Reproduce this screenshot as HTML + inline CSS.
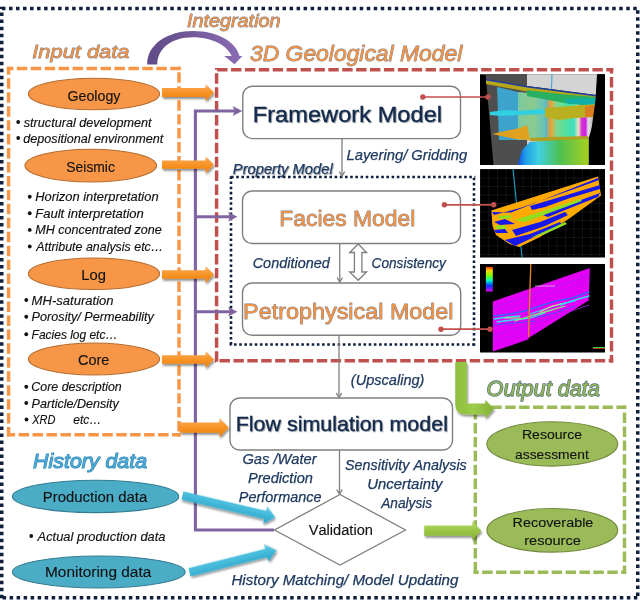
<!DOCTYPE html>
<html><head><meta charset="utf-8"><style>
html,body{margin:0;padding:0;background:#fff;}
svg{display:block;font-family:"Liberation Sans", sans-serif;font-kerning:none;will-change:transform;}
</style></head><body>
<svg width="640" height="600" viewBox="0 0 640 600">
<rect width="640" height="600" fill="#fff"/>
<defs>
<linearGradient id="og" x1="0" y1="0" x2="0" y2="1">
 <stop offset="0" stop-color="#fcc27a"/><stop offset="0.25" stop-color="#f9a040"/><stop offset="0.6" stop-color="#f7901f"/><stop offset="1" stop-color="#e47b17"/>
</linearGradient>
<linearGradient id="gg" x1="0" y1="0" x2="0" y2="1">
 <stop offset="0" stop-color="#c4e07f"/><stop offset="0.3" stop-color="#a6cf4e"/><stop offset="1" stop-color="#82ae33"/>
</linearGradient>
<linearGradient id="ggv" x1="0" y1="0" x2="1" y2="0">
 <stop offset="0" stop-color="#8fbf3f"/><stop offset="0.5" stop-color="#9ccb4a"/><stop offset="1" stop-color="#84b035"/>
</linearGradient>
<linearGradient id="bg" x1="0" y1="0" x2="0" y2="1">
 <stop offset="0" stop-color="#7fd3ea"/><stop offset="0.3" stop-color="#4ec0df"/><stop offset="1" stop-color="#2aa3c6"/>
</linearGradient>
<linearGradient id="pg" x1="0" y1="0" x2="1" y2="0">
 <stop offset="0" stop-color="#5f4a86"/><stop offset="1" stop-color="#8a6cb3"/>
</linearGradient>
<linearGradient id="leg" x1="0" y1="0" x2="0" y2="1">
 <stop offset="0" stop-color="#ff4000"/><stop offset="0.15" stop-color="#ffd000"/><stop offset="0.35" stop-color="#80ff00"/><stop offset="0.55" stop-color="#00ffc0"/><stop offset="0.75" stop-color="#0040ff"/><stop offset="1" stop-color="#e000ff"/>
</linearGradient>
<filter id="sh" x="-10%" y="-30%" width="130%" height="180%"><feGaussianBlur in="SourceAlpha" stdDeviation="1"/><feOffset dx="0.8" dy="1.5"/><feComponentTransfer><feFuncA type="linear" slope="0.45"/></feComponentTransfer><feMerge><feMergeNode/><feMergeNode in="SourceGraphic"/></feMerge></filter>
<filter id="tsh" x="-5%" y="-20%" width="110%" height="150%"><feGaussianBlur in="SourceAlpha" stdDeviation="0.7"/><feOffset dx="0.7" dy="1"/><feComponentTransfer><feFuncA type="linear" slope="0.3"/></feComponentTransfer><feMerge><feMergeNode/><feMergeNode in="SourceGraphic"/></feMerge></filter>
</defs>
<line x1="0.00" y1="8.50" x2="639.50" y2="8.50" stroke="#0f1f3d" stroke-width="3.5" stroke-dasharray="3.507 3.507" stroke-dashoffset="5.030"/>
<line x1="0.00" y1="597.75" x2="639.50" y2="597.75" stroke="#0f1f3d" stroke-width="3.5" stroke-dasharray="3.507 3.507" stroke-dashoffset="4.430"/>
<line x1="1.75" y1="6.75" x2="1.75" y2="599.50" stroke="#0f1f3d" stroke-width="3.5" stroke-dasharray="3.507 3.507" stroke-dashoffset="1.165"/>
<line x1="637.75" y1="6.75" x2="637.75" y2="599.50" stroke="#0f1f3d" stroke-width="3.5" stroke-dasharray="3.507 3.507" stroke-dashoffset="3.465"/>
<line x1="6.88" y1="68.50" x2="180.72" y2="68.50" stroke="#F79646" stroke-width="3.45" stroke-dasharray="10.462 3.488" stroke-dashoffset="4.025"/>
<line x1="6.88" y1="434.80" x2="180.72" y2="434.80" stroke="#F79646" stroke-width="3.45" stroke-dasharray="10.462 3.488" stroke-dashoffset="2.225"/>
<line x1="8.60" y1="66.78" x2="8.60" y2="436.53" stroke="#F79646" stroke-width="3.45" stroke-dasharray="10.462 3.488" stroke-dashoffset="2.425"/>
<line x1="179.00" y1="66.78" x2="179.00" y2="436.53" stroke="#F79646" stroke-width="3.45" stroke-dasharray="10.462 3.488" stroke-dashoffset="8.425"/>
<line x1="214.88" y1="69.80" x2="613.23" y2="69.80" stroke="#C0504D" stroke-width="3.45" stroke-dasharray="10.425 3.475" stroke-dashoffset="11.675"/>
<line x1="214.88" y1="360.80" x2="613.23" y2="360.80" stroke="#C0504D" stroke-width="3.45" stroke-dasharray="10.425 3.475" stroke-dashoffset="9.275"/>
<line x1="216.60" y1="68.08" x2="216.60" y2="362.53" stroke="#C0504D" stroke-width="3.45" stroke-dasharray="10.425 3.475" stroke-dashoffset="8.675"/>
<line x1="611.50" y1="68.08" x2="611.50" y2="362.53" stroke="#C0504D" stroke-width="3.45" stroke-dasharray="10.425 3.475" stroke-dashoffset="4.975"/>
<line x1="229.71" y1="177.00" x2="475.30" y2="177.00" stroke="#0f1f3d" stroke-width="2.59" stroke-dasharray="2.590 2.590" stroke-dashoffset="3.865"/>
<line x1="229.71" y1="344.50" x2="475.30" y2="344.50" stroke="#0f1f3d" stroke-width="2.59" stroke-dasharray="2.590 2.590" stroke-dashoffset="0.885"/>
<line x1="231.00" y1="175.71" x2="231.00" y2="345.80" stroke="#0f1f3d" stroke-width="2.59" stroke-dasharray="2.590 2.590" stroke-dashoffset="4.565"/>
<line x1="474.00" y1="175.71" x2="474.00" y2="345.80" stroke="#0f1f3d" stroke-width="2.59" stroke-dasharray="2.590 2.590" stroke-dashoffset="3.265"/>
<line x1="473.57" y1="407.20" x2="626.23" y2="407.20" stroke="#9BBB59" stroke-width="3.45" stroke-dasharray="10.425 3.475" stroke-dashoffset="10.075"/>
<line x1="473.57" y1="572.20" x2="626.23" y2="572.20" stroke="#9BBB59" stroke-width="3.45" stroke-dasharray="10.425 3.475" stroke-dashoffset="5.275"/>
<line x1="475.30" y1="405.47" x2="475.30" y2="573.93" stroke="#9BBB59" stroke-width="3.45" stroke-dasharray="10.425 3.475" stroke-dashoffset="10.275"/>
<line x1="624.50" y1="405.47" x2="624.50" y2="573.93" stroke="#9BBB59" stroke-width="3.45" stroke-dasharray="10.425 3.475" stroke-dashoffset="6.775"/>
<line x1="342" y1="139" x2="342" y2="176" stroke="#7f7f7f" stroke-width="1.3"/><polyline points="339.3,171.7 342,176 344.7,171.7" fill="none" stroke="#7f7f7f" stroke-width="1.3"/>
<line x1="339.75" y1="243.5" x2="339.75" y2="282" stroke="#7f7f7f" stroke-width="1.3"/><polyline points="337.05,277.7 339.75,282 342.45,277.7" fill="none" stroke="#7f7f7f" stroke-width="1.3"/>
<line x1="339" y1="335.5" x2="339" y2="397.5" stroke="#7f7f7f" stroke-width="1.3"/><polyline points="336.3,393.2 339,397.5 341.7,393.2" fill="none" stroke="#7f7f7f" stroke-width="1.3"/>
<line x1="339.5" y1="450" x2="339.5" y2="494" stroke="#7f7f7f" stroke-width="1.3"/><polyline points="336.8,489.7 339.5,494 342.2,489.7" fill="none" stroke="#7f7f7f" stroke-width="1.3"/>
<rect x="242.8" y="86.2" width="217.7" height="52.39999999999999" rx="9.5" fill="#fff" stroke="#7f7f7f" stroke-width="1.4"/>
<rect x="242.5" y="191" width="218.0" height="52.5" rx="9.5" fill="#fff" stroke="#7f7f7f" stroke-width="1.4"/>
<rect x="242.5" y="283" width="218.2" height="52.30000000000001" rx="9.5" fill="#fff" stroke="#7f7f7f" stroke-width="1.4"/>
<rect x="230" y="398" width="222.5" height="52" rx="9.5" fill="#fff" stroke="#7f7f7f" stroke-width="1.4"/>
<polygon points="358.2,244 366.6,252.5 361.9,252.5 361.9,272 366.6,272 358.2,280.3 349.7,272 354.4,272 354.4,252.5 349.7,252.5" fill="#fff" stroke="#7f7f7f" stroke-width="1.3" stroke-linejoin="miter"/>
<polygon points="340,494.5 405.5,530 340,565 274.5,530" fill="#fff" stroke="#7f7f7f" stroke-width="1.3"/>
<polyline points="274,530 195.4,530 195.4,111 236,111" fill="none" stroke="#8064A2" stroke-width="3.1"/>
<line x1="195.4" y1="216.8" x2="231" y2="216.8" stroke="#8064A2" stroke-width="3.1"/>
<line x1="195.4" y1="311.8" x2="231" y2="311.8" stroke="#8064A2" stroke-width="3.1"/>
<polygon points="232.6,106 242.3,111 232.6,116 234.79999999999998,111" fill="#8064A2"/>
<polygon points="228,212.0 237.5,216.8 228,221.60000000000002 230.2,216.8" fill="#8064A2"/>
<polygon points="228,307.0 237.5,311.8 228,316.6 230.2,311.8" fill="#8064A2"/>
<polygon points="162,88.0 205.5,88.0 205.5,84.0 214,92.5 205.5,101.0 205.5,97.0 162,97.0" fill="url(#og)" filter="url(#sh)"/>
<polygon points="162,160.54999999999998 205.5,160.54999999999998 205.5,156.2 214,164.7 205.5,173.2 205.5,168.85 162,168.85" fill="url(#og)" filter="url(#sh)"/>
<polygon points="162,270.25 205.5,270.25 205.5,266.0 214,274.5 205.5,283.0 205.5,278.75 162,278.75" fill="url(#og)" filter="url(#sh)"/>
<polygon points="162,355.25 205.5,355.25 205.5,351.0 214,359.5 205.5,368.0 205.5,363.75 162,363.75" fill="url(#og)" filter="url(#sh)"/>
<polygon points="180,422.5 219.4,422.5 219.4,418.0 228.8,427.6 219.4,437.20000000000005 219.4,432.70000000000005 180,432.70000000000005" fill="url(#og)" filter="url(#sh)"/>
<polygon points="424.2,525.6 472.2,525.6 472.2,521.3000000000001 481.3,530.7 472.2,540.1 472.2,535.8000000000001 424.2,535.8000000000001" fill="url(#gg)" filter="url(#sh)"/>
<g transform="translate(182.5,495.5) rotate(13.220)"><polygon points="0,-4.2 84.82617688756851,-4.2 84.82617688756851,-9.0 95.32617688756851,0 84.82617688756851,9.0 84.82617688756851,4.2 0,4.2" fill="url(#bg)" filter="url(#sh)"/></g>
<g transform="translate(189.5,572.3) rotate(-14.160)"><polygon points="0,-4.2 79.0201094726766,-4.2 79.0201094726766,-9.0 89.5201094726766,0 79.0201094726766,9.0 79.0201094726766,4.2 0,4.2" fill="url(#bg)" filter="url(#sh)"/></g>
<path d="M455.3,362 H466.9 V403.4 H485.3 V400 L494,408.8 L485.3,418.6 V414.5 H466 Q455.3,414.5 455.3,403.8 Z" fill="url(#ggv)" filter="url(#sh)"/>
<path d="M147.2,64.5 C147,44 168,31 193,31 C218,31 236,42 239.6,56 L242.4,56 L234.6,64.2 L224.2,56 L231.6,56 C227.5,45.5 212,37.2 193,37.2 C172,37.2 157.3,48 157.3,64.5 Z" fill="url(#pg)"/>
<ellipse cx="94" cy="94" rx="65.6" ry="15.8" fill="#F79646" stroke="#b66d31" stroke-width="1.1"/>
<ellipse cx="90.75" cy="165.6" rx="65.8" ry="16.4" fill="#F79646" stroke="#b66d31" stroke-width="1.1"/>
<ellipse cx="94" cy="273.75" rx="65.6" ry="15.8" fill="#F79646" stroke="#b66d31" stroke-width="1.1"/>
<ellipse cx="94" cy="359" rx="65.6" ry="16" fill="#F79646" stroke="#b66d31" stroke-width="1.1"/>
<ellipse cx="95.6" cy="496.4" rx="83.2" ry="16.2" fill="#4BACC6" stroke="#357d91" stroke-width="1.1"/>
<ellipse cx="98.75" cy="572" rx="86.4" ry="16" fill="#4BACC6" stroke="#357d91" stroke-width="1.1"/>
<ellipse cx="552.3" cy="443.9" rx="65.4" ry="22.2" fill="#9BBB59" stroke="#71893f" stroke-width="1.1"/>
<ellipse cx="552.3" cy="530.3" rx="65.4" ry="21.8" fill="#9BBB59" stroke="#71893f" stroke-width="1.1"/>
<linearGradient id="im1s" x1="517" y1="0" x2="596" y2="0" gradientUnits="userSpaceOnUse">
 <stop offset="0" stop-color="#70c8a8"/><stop offset="0.2" stop-color="#a0d070"/><stop offset="0.35" stop-color="#40b8e0"/><stop offset="0.43" stop-color="#f0a030"/><stop offset="0.5" stop-color="#80d890"/><stop offset="0.62" stop-color="#50e0a0"/><stop offset="0.72" stop-color="#40e0c0"/><stop offset="0.78" stop-color="#f0e0c0"/><stop offset="0.82" stop-color="#d030d0"/><stop offset="0.87" stop-color="#d020e0"/><stop offset="0.9" stop-color="#e0e0e0"/><stop offset="0.95" stop-color="#c0c0c0"/><stop offset="1" stop-color="#80c090"/>
</linearGradient>
<linearGradient id="im1m" x1="517" y1="0" x2="589" y2="0" gradientUnits="userSpaceOnUse">
 <stop offset="0" stop-color="#1040e0"/><stop offset="0.12" stop-color="#20a0e8"/><stop offset="0.3" stop-color="#40d0e0"/><stop offset="0.6" stop-color="#50c050"/><stop offset="1" stop-color="#a8d020"/>
</linearGradient>
<g>
<rect x="480" y="74.3" width="125" height="90.7" fill="#000"/>
<polygon points="485.6,74.3 527,74.3 527,165 493.5,165" fill="#4e4e4e"/>
<polygon points="527,74.3 598,74.3 596,95 527,86" fill="#d4d4d4"/>
<polygon points="527,138 545,140 540,150 527,150" fill="#d0d0d0"/>
<line x1="552" y1="74.3" x2="551.5" y2="90" stroke="#30a0d0" stroke-width="1"/>
<polygon points="497,87 518,92 518,140 499,140" fill="#3ca4cc"/>
<polygon points="518,92 596,100 596,115 588,140 518,140" fill="url(#im1s)"/>
<polygon points="518,92 545,95 545,140 518,140" fill="#80c8a0" opacity="0.6"/>
<polygon points="486,79 527,86 596,95 596,98 527,90 486,83" fill="#2040a0"/>
<polygon points="486,80.5 527,87.5 596,96.5 596,99 527,91.5 486,84" fill="#b8a818"/>
<polygon points="527,90 560,94 596,97 597,106 570,104 527,96" fill="#28b060"/>
<polygon points="565,99 596,98 597,106 565,103" fill="#10b0a8"/>
<polygon points="490,112 505,110 520,111 540,109 545,110 545,114 520,115 500,116 490,115" fill="#30d0e0"/>
<polygon points="545,108 570,106 597,104 597,117 575,118 560,120 545,117" fill="#b8b020"/>
<polygon points="585,106 597,105 597,117 585,117" fill="#e07020" opacity="0.8"/>
<polygon points="492,134 505,131 520,128 527,125 530,140 515,139" fill="#e0a020"/>
<polygon points="530,138 550,137 588,136 588,141 545,142 530,141" fill="#b0a020"/>
<polygon points="517.6,165 522,150 530,142 560,140 588.8,139 588.8,165" fill="url(#im1m)"/>
<polygon points="597,74.3 605,74.3 605,165 588.8,165 590,140 595.5,100" fill="#000"/>
</g>
<pattern id="grid" x="480" y="169" width="8.5" height="8.5" patternUnits="userSpaceOnUse">
<path d="M0,0 H8.5 M0,0 V8.5" stroke="#383838" stroke-width="0.6" fill="none"/></pattern>
<g>
<rect x="480" y="169" width="125" height="88.5" fill="#000"/>
<rect x="480" y="169" width="125" height="88.5" fill="url(#grid)"/>
<line x1="513" y1="169" x2="522" y2="257" stroke="#1aa0d0" stroke-width="1.1"/>
<polygon points="491.4,210.5 598,176.5 601,195.6 568.6,219 540,237 519.4,247 509.5,244 496,235 492.5,226" fill="#ffaa00"/>
<polygon points="492,212 511,212.5 540,201 598,178 598,180.5 560,194 520,208 494,215" fill="#1818e8"/>
<polygon points="530,206 560,197 600,185 600,189 570,198 545,207 532,210" fill="#1818e8"/>
<polygon points="540,214 570,204 600,193 598,197 570,208 548,217" fill="#1818e8"/>
<polygon points="494,222 505,219 515,224 500,225" fill="#1818e8"/>
<polygon points="512,230 540,222 565,212 568,215 545,226 516,236" fill="#1818e8"/>
<polygon points="505,240 530,234 560,222 562,225 530,239 515,246" fill="#1818e8"/>
<polygon points="494,230 505,229 508,233 496,233" fill="#1818e8"/>
<polygon points="515,220 540,212 565,204 580,199 582,201 560,209 525,222" fill="#90e020"/>
<polygon points="530,238 550,229 565,222 567,224 545,234" fill="#90e020"/>
<polygon points="495,226 505,225 507,229 496,229" fill="#90e020"/>
<polygon points="498,216 510,215 512,218 500,219" fill="#90e020"/>
</g>
<g>
<rect x="480" y="264" width="125" height="88.5" fill="#000"/>
<polygon points="492.8,301.4 589.8,267.9 588.7,300.4 529,337.8 528,339.5 492.8,351.6" fill="#e200f6"/>
<g stroke-width="0.8" fill="none">
<path d="M493,308 L590,275" stroke="#b020f0"/><path d="M493,313 L590,281" stroke="#c010f0"/><path d="M493,336 L560,315 L589,305" stroke="#b020f0"/><path d="M493,342 L540,327" stroke="#c010f0"/>
</g>
<g fill="none" stroke-linecap="round">
<path d="M494,316 L510,314 L525,311 L540,306 L556,301 L572,298 L589,292" stroke="#4060ff" stroke-width="1.6"/>
<path d="M494,319 L508,317 L520,316" stroke="#30e0f0" stroke-width="1.4"/>
<path d="M497,322 L512,320 L530,318 L545,313" stroke="#30e0f0" stroke-width="1.3"/>
<path d="M515,321 L530,316 L548,311 L565,306" stroke="#80f080" stroke-width="1.3"/>
<path d="M530,314 L545,309 L560,304 L575,301" stroke="#30e0f0" stroke-width="1.2"/>
<path d="M540,312 L552,306 L566,303" stroke="#f0f060" stroke-width="0.9"/>
<path d="M560,305 L575,300 L589,296" stroke="#30e0f0" stroke-width="1.4"/>
<path d="M494,325 L515,323 L535,321" stroke="#5050ff" stroke-width="1.1"/>
<path d="M535,318 L555,313 L575,306" stroke="#5050ff" stroke-width="1"/>
<path d="M505,318 L520,318" stroke="#a0ff60" stroke-width="1"/>
</g>
<rect x="535" y="285.5" width="20" height="1" fill="#e0e0e0" opacity="0.7"/>
<rect x="485.9" y="266.9" width="6.9" height="24.6" fill="url(#leg)"/>
<line x1="530.8" y1="264" x2="528.5" y2="337" stroke="#e08020" stroke-width="1.4"/>
<rect x="593" y="347" width="12" height="1" fill="#30e030"/><rect x="593" y="348.2" width="12" height="0.8" fill="#e03030"/>
</g>
<line x1="422.8" y1="97" x2="488" y2="97" stroke="#C0504D" stroke-width="1.7"/><circle cx="422.8" cy="97" r="2.7" fill="#C0504D"/><circle cx="488" cy="97" r="2.7" fill="#C0504D"/>
<line x1="444.4" y1="204.8" x2="493.7" y2="204.8" stroke="#C0504D" stroke-width="1.7"/><circle cx="444.4" cy="204.8" r="2.7" fill="#C0504D"/><circle cx="493.7" cy="204.8" r="2.7" fill="#C0504D"/>
<line x1="441" y1="329.2" x2="490" y2="329.2" stroke="#C0504D" stroke-width="1.7"/><circle cx="441" cy="329.2" r="2.7" fill="#C0504D"/><circle cx="490" cy="329.2" r="2.7" fill="#C0504D"/>
<text x="32.24" y="58.10" font-size="18.90" font-style="italic" font-weight="normal" textLength="97.26" lengthAdjust="spacingAndGlyphs" fill="#F59240" stroke="#6f7f9c" stroke-width="0.85" paint-order="stroke" stroke-linejoin="round">Input data</text>
<text x="186.92" y="26.50" font-size="17.44" font-style="italic" font-weight="normal" textLength="93.68" lengthAdjust="spacingAndGlyphs" fill="#F59240" stroke="#6f7f9c" stroke-width="0.85" paint-order="stroke" stroke-linejoin="round">Integration</text>
<text x="250.06" y="60.80" font-size="22.97" font-style="italic" font-weight="normal" textLength="212.22" lengthAdjust="spacingAndGlyphs" fill="#F59240" stroke="#6f7f9c" stroke-width="0.85" paint-order="stroke" stroke-linejoin="round">3D Geological Model</text>
<text x="486.62" y="396.25" font-size="21.80" font-style="italic" font-weight="normal" textLength="113.32" lengthAdjust="spacingAndGlyphs" fill="#94b855" stroke="#4f6a82" stroke-width="1.3" paint-order="stroke" stroke-linejoin="round">Output data</text>
<text x="33.14" y="468.00" font-size="20.64" font-style="italic" font-weight="normal" textLength="113.89" lengthAdjust="spacingAndGlyphs" fill="#4aa8d4" stroke="#2f80b0" stroke-width="1.1" paint-order="stroke" stroke-linejoin="round">History data</text>
<text x="252.76" y="122.00" font-size="21.80" font-style="normal" font-weight="normal" textLength="189.32" lengthAdjust="spacingAndGlyphs" fill="#13294b" stroke="#13294b" stroke-width="0.4" filter="url(#tsh)">Framework Model</text>
<text x="279.38" y="225.75" font-size="22.67" font-style="normal" font-weight="normal" textLength="135.90" lengthAdjust="spacingAndGlyphs" fill="#F59240" stroke="#6f7f9c" stroke-width="0.85" paint-order="stroke" stroke-linejoin="round">Facies Model</text>
<text x="243.08" y="319.40" font-size="22.97" font-style="normal" font-weight="normal" textLength="210.48" lengthAdjust="spacingAndGlyphs" fill="#F59240" stroke="#6f7f9c" stroke-width="0.85" paint-order="stroke" stroke-linejoin="round">Petrophysical Model</text>
<text x="235.74" y="431.00" font-size="19.62" font-style="normal" font-weight="normal" textLength="212.19" lengthAdjust="spacingAndGlyphs" fill="#13294b" stroke="#13294b" stroke-width="0.4" filter="url(#tsh)">Flow simulation model</text>
<text x="67.49" y="100.80" font-size="13.95" font-style="normal" font-weight="normal" textLength="52.94" lengthAdjust="spacingAndGlyphs" fill="#111" stroke="#111" stroke-width="0.12">Geology</text>
<text x="66.37" y="172.00" font-size="13.95" font-style="normal" font-weight="normal" textLength="48.49" lengthAdjust="spacingAndGlyphs" fill="#111" stroke="#111" stroke-width="0.12">Seismic</text>
<text x="81.29" y="279.50" font-size="13.95" font-style="normal" font-weight="normal" textLength="24.67" lengthAdjust="spacingAndGlyphs" fill="#111" stroke="#111" stroke-width="0.12">Log</text>
<text x="78.01" y="364.50" font-size="13.95" font-style="normal" font-weight="normal" textLength="31.38" lengthAdjust="spacingAndGlyphs" fill="#111" stroke="#111" stroke-width="0.12">Core</text>
<text x="42.78" y="501.60" font-size="15.26" font-style="normal" font-weight="normal" textLength="104.42" lengthAdjust="spacingAndGlyphs" fill="#111" stroke="#111" stroke-width="0.12">Production data</text>
<text x="44.99" y="576.90" font-size="15.26" font-style="normal" font-weight="normal" textLength="106.26" lengthAdjust="spacingAndGlyphs" fill="#111" stroke="#111" stroke-width="0.12">Monitoring data</text>
<text x="521.95" y="439.20" font-size="13.08" font-style="normal" font-weight="normal" textLength="60.18" lengthAdjust="spacingAndGlyphs" fill="#111" stroke="#111" stroke-width="0.12">Resource</text>
<text x="515.11" y="458.60" font-size="13.08" font-style="normal" font-weight="normal" textLength="73.69" lengthAdjust="spacingAndGlyphs" fill="#111" stroke="#111" stroke-width="0.12">assessment</text>
<text x="512.62" y="526.70" font-size="13.08" font-style="normal" font-weight="normal" textLength="80.72" lengthAdjust="spacingAndGlyphs" fill="#111" stroke="#111" stroke-width="0.12">Recoverable</text>
<text x="524.23" y="545.20" font-size="13.08" font-style="normal" font-weight="normal" textLength="56.61" lengthAdjust="spacingAndGlyphs" fill="#111" stroke="#111" stroke-width="0.12">resource</text>
<text x="308.69" y="535.00" font-size="13.95" font-style="normal" font-weight="normal" textLength="64.26" lengthAdjust="spacingAndGlyphs" fill="#111" stroke="#111" stroke-width="0.12">Validation</text>
<circle cx="18.2" cy="122.0" r="1.9" fill="#111"/>
<text x="23.77" y="126.50" font-size="11.92" font-style="italic" font-weight="normal" textLength="127.79" lengthAdjust="spacingAndGlyphs" fill="#111" stroke="#111" stroke-width="0.15">structural development</text>
<circle cx="18.2" cy="138.0" r="1.9" fill="#111"/>
<text x="23.38" y="142.50" font-size="11.92" font-style="italic" font-weight="normal" textLength="139.94" lengthAdjust="spacingAndGlyphs" fill="#111" stroke="#111" stroke-width="0.15">depositional environment</text>
<circle cx="29.75" cy="196.75" r="1.9" fill="#111"/>
<text x="35.20" y="201.25" font-size="11.92" font-style="italic" font-weight="normal" textLength="123.38" lengthAdjust="spacingAndGlyphs" fill="#111" stroke="#111" stroke-width="0.15">Horizon interpretation</text>
<circle cx="29.75" cy="213.25" r="1.9" fill="#111"/>
<text x="35.20" y="217.75" font-size="11.92" font-style="italic" font-weight="normal" textLength="108.64" lengthAdjust="spacingAndGlyphs" fill="#111" stroke="#111" stroke-width="0.15">Fault interpretation</text>
<circle cx="29.75" cy="229.9" r="1.9" fill="#111"/>
<text x="35.21" y="234.40" font-size="11.92" font-style="italic" font-weight="normal" textLength="126.50" lengthAdjust="spacingAndGlyphs" fill="#111" stroke="#111" stroke-width="0.15">MH concentrated zone</text>
<circle cx="29.75" cy="246.5" r="1.9" fill="#111"/>
<text x="36.21" y="251.00" font-size="11.92" font-style="italic" font-weight="normal" textLength="127.02" lengthAdjust="spacingAndGlyphs" fill="#111" stroke="#111" stroke-width="0.15">Attribute analysis etc…</text>
<circle cx="26.25" cy="300.0" r="1.9" fill="#111"/>
<text x="31.60" y="304.50" font-size="11.92" font-style="italic" font-weight="normal" textLength="81.99" lengthAdjust="spacingAndGlyphs" fill="#111" stroke="#111" stroke-width="0.15">MH-saturation</text>
<circle cx="26.25" cy="316.75" r="1.9" fill="#111"/>
<text x="31.61" y="321.25" font-size="11.92" font-style="italic" font-weight="normal" textLength="122.25" lengthAdjust="spacingAndGlyphs" fill="#111" stroke="#111" stroke-width="0.15">Porosity/ Permeability</text>
<circle cx="26.25" cy="334.25" r="1.9" fill="#111"/>
<text x="31.63" y="338.75" font-size="11.92" font-style="italic" font-weight="normal" textLength="85.78" lengthAdjust="spacingAndGlyphs" fill="#111" stroke="#111" stroke-width="0.15">Facies log etc…</text>
<circle cx="26.25" cy="386.75" r="1.9" fill="#111"/>
<text x="31.31" y="391.25" font-size="11.92" font-style="italic" font-weight="normal" textLength="90.50" lengthAdjust="spacingAndGlyphs" fill="#111" stroke="#111" stroke-width="0.15">Core description</text>
<circle cx="26.25" cy="403.0" r="1.9" fill="#111"/>
<text x="31.61" y="407.50" font-size="11.92" font-style="italic" font-weight="normal" textLength="87.25" lengthAdjust="spacingAndGlyphs" fill="#111" stroke="#111" stroke-width="0.15">Particle/Density</text>
<circle cx="31.25" cy="536.0" r="1.9" fill="#111"/>
<text x="37.63" y="540.50" font-size="11.92" font-style="italic" font-weight="normal" textLength="127.81" lengthAdjust="spacingAndGlyphs" fill="#111" stroke="#111" stroke-width="0.15">Actual production data</text>
<circle cx="26.5" cy="419.5" r="1.9" fill="#111"/>
<text x="32.21" y="424.00" font-size="11.92" font-style="italic" font-weight="normal" textLength="23.14" lengthAdjust="spacingAndGlyphs" fill="#111" stroke="#111" stroke-width="0.12">XRD</text>
<text x="73.34" y="424.00" font-size="11.92" font-style="italic" font-weight="normal" textLength="28.08" lengthAdjust="spacingAndGlyphs" fill="#111" stroke="#111" stroke-width="0.12">etc…</text>
<text x="232.85" y="174.00" font-size="13.81" font-style="italic" font-weight="normal" textLength="99.82" lengthAdjust="spacingAndGlyphs" fill="#1f3a60" stroke="#1f3a60" stroke-width="0.25" filter="url(#tsh)">Property Model</text>
<text x="346.45" y="159.60" font-size="13.81" font-style="italic" font-weight="normal" textLength="120.78" lengthAdjust="spacingAndGlyphs" fill="#1f3a60" stroke="#1f3a60" stroke-width="0.25">Layering/ Gridding</text>
<text x="252.70" y="267.60" font-size="13.81" font-style="italic" font-weight="normal" textLength="77.12" lengthAdjust="spacingAndGlyphs" fill="#1f3a60" stroke="#1f3a60" stroke-width="0.25">Conditioned</text>
<text x="371.55" y="267.60" font-size="13.81" font-style="italic" font-weight="normal" textLength="74.37" lengthAdjust="spacingAndGlyphs" fill="#1f3a60" stroke="#1f3a60" stroke-width="0.25">Consistency</text>
<text x="350.82" y="384.60" font-size="13.81" font-style="italic" font-weight="normal" textLength="73.65" lengthAdjust="spacingAndGlyphs" fill="#1f3a60" stroke="#1f3a60" stroke-width="0.25">(Upscaling)</text>
<text x="242.48" y="463.60" font-size="13.81" font-style="italic" font-weight="normal" textLength="74.13" lengthAdjust="spacingAndGlyphs" fill="#1f3a60" stroke="#1f3a60" stroke-width="0.25">Gas /Water</text>
<text x="247.95" y="482.80" font-size="13.81" font-style="italic" font-weight="normal" textLength="65.01" lengthAdjust="spacingAndGlyphs" fill="#1f3a60" stroke="#1f3a60" stroke-width="0.25">Prediction</text>
<text x="238.86" y="502.00" font-size="13.81" font-style="italic" font-weight="normal" textLength="82.58" lengthAdjust="spacingAndGlyphs" fill="#1f3a60" stroke="#1f3a60" stroke-width="0.25">Performance</text>
<text x="345.09" y="469.70" font-size="13.81" font-style="italic" font-weight="normal" textLength="121.70" lengthAdjust="spacingAndGlyphs" fill="#1f3a60" stroke="#1f3a60" stroke-width="0.25">Sensitivity Analysis</text>
<text x="367.29" y="489.00" font-size="13.81" font-style="italic" font-weight="normal" textLength="75.26" lengthAdjust="spacingAndGlyphs" fill="#1f3a60" stroke="#1f3a60" stroke-width="0.25">Uncertainty</text>
<text x="381.18" y="508.00" font-size="13.81" font-style="italic" font-weight="normal" textLength="51.01" lengthAdjust="spacingAndGlyphs" fill="#1f3a60" stroke="#1f3a60" stroke-width="0.25">Analysis</text>
<text x="231.43" y="585.00" font-size="13.81" font-style="italic" font-weight="normal" textLength="227.00" lengthAdjust="spacingAndGlyphs" fill="#1f3a60" stroke="#1f3a60" stroke-width="0.25">History Matching/ Model Updating</text>
</svg></body></html>
